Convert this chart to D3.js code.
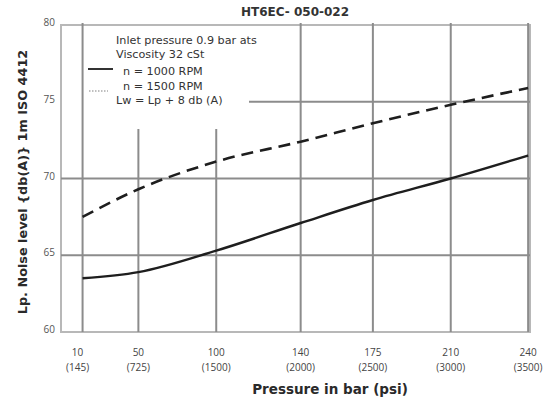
<!DOCTYPE html>
<html>
<head>
<meta charset="utf-8">
<script src="https://cdn.jsdelivr.net/npm/d3@7"></script>
<style>
  html, body { margin: 0; padding: 0; background: #fff; }
  svg { display: block; }
  text { font-family: "Open Sans", "Noto Sans", sans-serif; }
  .dv { font-family: "DejaVu Sans", "Open Sans", sans-serif; }
</style>
</head>
<body>
<svg id="chart" width="545" height="400"></svg>
<script>
// ---- data ----
const pressureBar = [10, 50, 100, 140, 175, 210, 240];
const pressurePsi = ["(145)", "(725)", "(1500)", "(2000)", "(2500)", "(3000)", "(3500)"];
const rpm1000 = [63.5, 63.9, 65.3, 67.1, 68.6, 70.0, 71.5];
const rpm1500 = [67.5, 69.3, 71.1, 72.4, 73.6, 74.8, 75.9];
const yTicks = [60, 65, 70, 75, 80];
const legendNotes = ["Inlet pressure 0.9 bar ats", "Viscosity 32 cSt"];
const seriesNames = ["n = 1000 RPM", "n = 1500 RPM"];
const footNote = "Lw = Lp + 8 db (A)";
const title = "HT6EC- 050-022";
const xTitle = "Pressure in bar (psi)";
const yTitle = "Lp. Noise level {db(A)} 1m ISO 4412";

// ---- layout ----
const plot = { left: 61, right: 530, top: 25, bottom: 332 };
const W = plot.right - plot.left;
// the original chart places pressure gridlines non-uniformly
const xFrac = [0.046, 0.165, 0.331, 0.511, 0.665, 0.831, 0.996];

const svg = d3.select("#chart");
const x = d3.scaleLinear()
  .domain(pressureBar)
  .range(xFrac.map(f => plot.left + f * W));
const y = d3.scaleLinear().domain([60, 80]).range([plot.bottom, plot.top]);

const gridColor = "#8c8c8c";
const frameColor = "#b8b8b8";

// frame
svg.append("rect")
  .attr("x", plot.left).attr("y", plot.top)
  .attr("width", W).attr("height", plot.bottom - plot.top)
  .attr("fill", "none").attr("stroke", frameColor).attr("stroke-width", 2);

// horizontal gridlines
const hg = svg.append("g");
[65, 70].forEach(v => {
  hg.append("line")
    .attr("x1", plot.left).attr("x2", plot.right)
    .attr("y1", y(v)).attr("y2", y(v))
    .attr("stroke", gridColor).attr("stroke-width", 2);
});
hg.append("line")
  .attr("x1", 249).attr("x2", plot.right)
  .attr("y1", y(75)).attr("y2", y(75))
  .attr("stroke", gridColor).attr("stroke-width", 2);

// vertical gridlines (50 and 100 start below the legend)
const vg = svg.append("g");
pressureBar.forEach(p => {
  const top = (p === 50 || p === 100) ? 129 : plot.top - 2;
  vg.append("line")
    .attr("x1", x(p)).attr("x2", x(p))
    .attr("y1", top).attr("y2", plot.bottom)
    .attr("stroke", gridColor).attr("stroke-width", 2);
});

// y tick labels
svg.append("g").selectAll("text").data(yTicks).join("text")
  .attr("x", 55).attr("y", d => y(d) + 1)
  .attr("text-anchor", "end")
  .attr("font-size", 10).attr("fill", "#555")
  .text(d => d);

// x tick labels
const xl = svg.append("g");
pressureBar.forEach((p, i) => {
  xl.append("text").attr("x", x(p) + (i === 0 ? -5 : 0)).attr("y", 356)
    .attr("text-anchor", "middle").attr("font-size", 10).attr("fill", "#444")
    .text(p);
  xl.append("text").attr("x", x(p) + (i === 0 ? -5 : 0)).attr("y", 371)
    .attr("text-anchor", "middle").attr("font-size", 10).attr("fill", "#444")
    .text(pressurePsi[i]);
});

// curves
const line = d3.line()
  .x((d, i) => x(pressureBar[i]))
  .y(d => y(d))
  .curve(d3.curveMonotoneX);

svg.append("path").datum(rpm1000)
  .attr("d", line).attr("fill", "none")
  .attr("stroke", "#1e1e1e").attr("stroke-width", 2.4);

svg.append("path").datum(rpm1500)
  .attr("d", line).attr("fill", "none")
  .attr("stroke", "#1e1e1e").attr("stroke-width", 2.6)
  .attr("stroke-dasharray", "12,7");

// legend
const lg = svg.append("g").attr("font-size", 11.2).attr("fill", "#333");
lg.append("text").attr("class", "dv").attr("x", 116).attr("y", 44).text(legendNotes[0]);
lg.append("text").attr("class", "dv").attr("x", 116).attr("y", 58).text(legendNotes[1]);
lg.append("line").attr("x1", 88).attr("x2", 113).attr("y1", 69).attr("y2", 69)
  .attr("stroke", "#333").attr("stroke-width", 2);
lg.append("text").attr("class", "dv").attr("x", 123).attr("y", 75).text(seriesNames[0]);
lg.append("line").attr("x1", 89).attr("x2", 108).attr("y1", 91).attr("y2", 91)
  .attr("stroke", "#aaa").attr("stroke-width", 1.5).attr("stroke-dasharray", "1.5,1.5");
lg.append("text").attr("class", "dv").attr("x", 123).attr("y", 89.5).text(seriesNames[1]);
lg.append("text").attr("class", "dv").attr("x", 116).attr("y", 104).text(footNote);

// title
svg.append("text").attr("class", "dv").attr("x", 295).attr("y", 16)
  .attr("text-anchor", "middle").attr("font-size", 12).attr("font-weight", "bold")
  .attr("fill", "#333").text(title);

// axis titles
svg.append("text").attr("class", "dv").attr("x", 330).attr("y", 394)
  .attr("text-anchor", "middle").attr("font-size", 13.5).attr("font-weight", "bold")
  .attr("fill", "#2a2a2a").text(xTitle);

svg.append("text").attr("class", "dv")
  .attr("transform", "translate(27,182) rotate(-90)")
  .attr("text-anchor", "middle").attr("font-size", 12.8).attr("font-weight", "bold")
  .attr("fill", "#2a2a2a").text(yTitle);
</script>
</body>
</html>
